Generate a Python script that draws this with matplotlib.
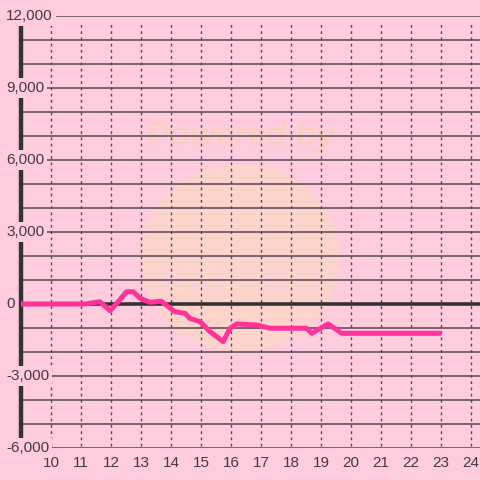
import matplotlib
matplotlib.use("Agg")
import matplotlib.pyplot as plt
import matplotlib.transforms as mtrans
from matplotlib.patches import Circle

# hour of day vs cumulative value
hours = [9.0, 11.13, 11.63, 11.97, 12.24, 12.52, 12.74, 12.97, 13.3, 13.67,
         14.13, 14.47, 14.63, 14.97, 15.3, 15.74, 15.97, 16.19, 16.86, 17.3,
         18.52, 18.69, 19.24, 19.69, 23.02]
values = [0, 0, 96, -280, 96, 512, 512, 237, 71, 120,
          -320, -390, -600, -740, -1150, -1570, -1010, -830, -875, -1010,
          -1010, -1220, -830, -1220, -1220]
x_ticks = list(range(10, 25))
y_ticks = [-6000, -3000, 0, 3000, 6000, 9000, 12000]
y_grid = list(range(-6000, 12001, 1000))

BG = "#ffccdd"
GRID = "#5a4352"
TXT = "#463a42"
plt.rcParams["font.family"] = ["Liberation Sans", "DejaVu Sans"]

fig = plt.figure(figsize=(4.8, 4.8), dpi=100, facecolor=BG)
ax = fig.add_axes([21 / 480, 32 / 480, 459 / 480, 432 / 480], facecolor=BG)
ax.set_xlim(9.0, 24.3)
ax.set_ylim(-6000, 12000)

# faint watermark
ax.add_patch(Circle((0.478, 0.44), 0.217, transform=ax.transAxes,
                    facecolor="#fcd6c8", edgecolor="none", alpha=0.85, zorder=0.5))
ax.text(0.478, 0.72, "Powered by", transform=ax.transAxes, ha="center", va="center",
        fontsize=24, fontweight="bold", fontstyle="italic", color="#f8cfc2", zorder=0.6)
ax.text(0.478, 0.38, "P A P I M O", transform=ax.transAxes, ha="center", va="center",
        fontsize=22, color="#fbd0dc", zorder=0.6)

for y in y_grid:
    ax.axhline(y, color=GRID, lw=1.1, zorder=1)
ax.axhline(0, color="#333333", lw=2.6, zorder=2)
ax.vlines(x_ticks, -5900, 11800, colors=GRID, linestyles=(0, (2, 2.5)), lw=1.0, zorder=1)

ax.plot(hours, values, color="#ff3399", lw=3.6, solid_joinstyle="round",
        solid_capstyle="butt", zorder=3)

for s in ["top", "right", "bottom"]:
    ax.spines[s].set_visible(False)
ax.spines["left"].set_color("#333333")
ax.spines["left"].set_linewidth(3.2)
ax.spines["left"].set_zorder(2)

ax.set_xticks(x_ticks)
ax.set_xticklabels([str(t) for t in x_ticks])
ax.tick_params(axis="x", length=0, pad=6, labelsize=11, labelcolor=TXT)
ax.set_yticks([])

# y labels sit over the left spine, x in figure coords
ytrans = mtrans.blended_transform_factory(fig.transFigure, ax.transData)
for y in y_ticks:
    ax.text(6 / 480, y, f"{y:,}", transform=ytrans, ha="left", va="center",
            fontsize=11, color=TXT, clip_on=False, zorder=5,
            bbox=dict(boxstyle="square,pad=0.2", facecolor=BG, edgecolor="none"))

fig.savefig("out.png", dpi=100, facecolor=BG)
